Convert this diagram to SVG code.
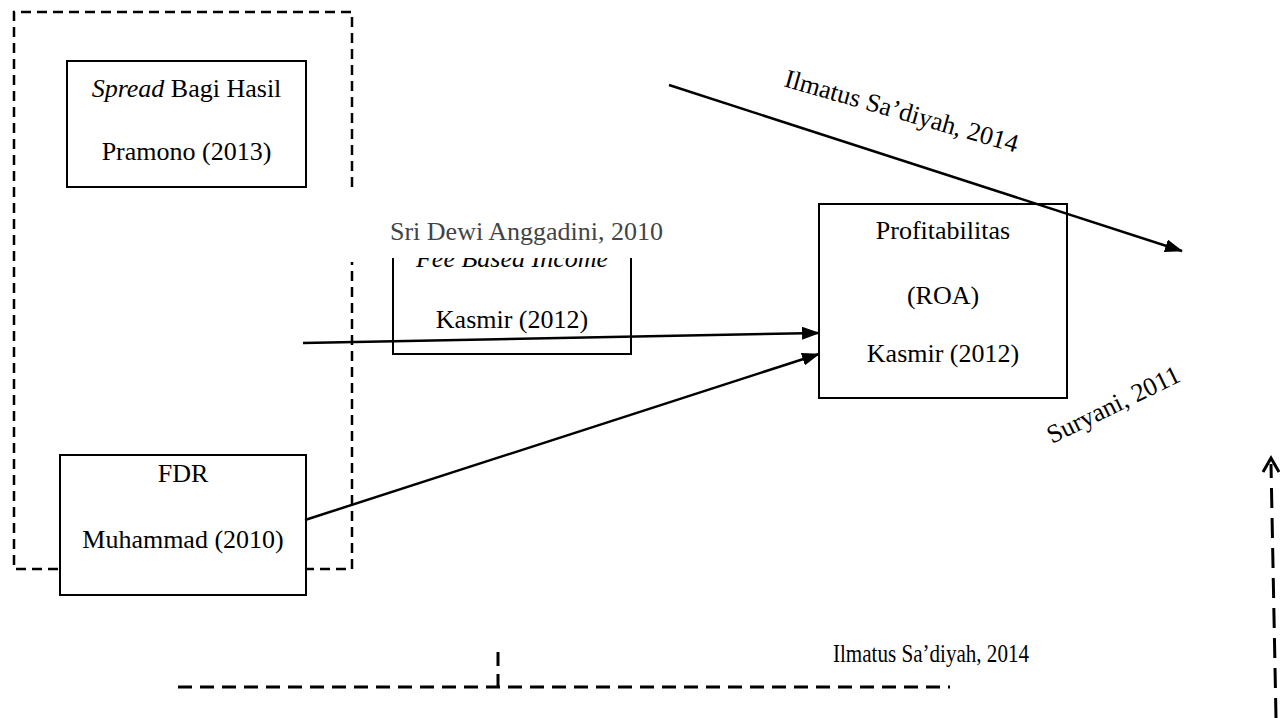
<svg xmlns="http://www.w3.org/2000/svg" width="1280" height="718" viewBox="0 0 1280 718">
<style>
text{font-family:"Liberation Serif","Times New Roman",serif;font-size:26px;fill:#000}
.box{fill:#fff;stroke:#000;stroke-width:2}
.c{text-anchor:middle}
.gray{fill:#444}
.dash1{fill:none;stroke:#000;stroke-width:2.5;stroke-dasharray:10 6}
.dash2{fill:none;stroke:#000;stroke-width:3;stroke-dasharray:14 8}
.dash3{fill:none;stroke:#000;stroke-width:3;stroke-dasharray:20 10}
.conn{fill:none;stroke:#000;stroke-width:2.5}
</style>
<defs>
<marker id="ah" viewBox="0 0 18 13" refX="17" refY="6.5" markerWidth="18" markerHeight="13" markerUnits="userSpaceOnUse" orient="auto">
<path d="M0,0 L18,6.5 L0,13 Z" fill="#000"/>
</marker>
<clipPath id="feeclip"><rect x="380" y="258" width="270" height="40"/></clipPath>
</defs>
<rect width="1280" height="718" fill="#fff"/>
<g id="frame-left">
<path class="dash1" d="M352,187 L352,12 L14,12 L14,569 L352,569 L352,262"/>
</g>
<g id="frame-bottom">
<path class="dash2" d="M178,687 L950,687 M498,652 L498,687"/>
</g>
<g id="node-spread">
<rect class="box" x="67" y="61" width="239" height="126"/>
<text class="c" x="186.5" y="97"><tspan font-style="italic">Spread</tspan> Bagi Hasil</text>
<text class="c" x="186.5" y="160">Pramono (2013)</text>
</g>
<g id="node-fdr">
<rect class="box" x="60" y="455" width="246" height="140"/>
<text class="c" x="183" y="482">FDR</text>
<text class="c" x="183" y="548">Muhammad (2010)</text>
</g>
<g id="node-fee">
<path fill="#fff" stroke="#000" stroke-width="2" d="M393,258 L393,354 L631,354 L631,258"/>
<text class="c" x="512" y="267" font-style="italic" clip-path="url(#feeclip)">Fee Based Income</text>
<text class="c" x="512" y="328">Kasmir (2012)</text>
</g>
<g id="node-roa">
<rect class="box" x="819" y="204" width="248" height="194"/>
<text class="c" x="943" y="239">Profitabilitas</text>
<text class="c" x="943" y="304">(ROA)</text>
<text class="c" x="943" y="362">Kasmir (2012)</text>
</g>
<g id="labels">
<text class="c gray" x="526.5" y="240">Sri Dewi Anggadini, 2010</text>
<text transform="translate(783,86) rotate(16)">Ilmatus Sa’diyah, 2014</text>
<text transform="translate(1052,444) rotate(-26)">Suryani, 2011</text>
<text x="833" y="662" textLength="196" lengthAdjust="spacingAndGlyphs">Ilmatus Sa’diyah, 2014</text>
</g>
<g id="connectors">
<line class="conn" x1="669" y1="85" x2="1182" y2="251" marker-end="url(#ah)"/>
<line class="conn" x1="303" y1="343" x2="819" y2="333" marker-end="url(#ah)"/>
<line class="conn" x1="305" y1="520" x2="819" y2="354" marker-end="url(#ah)"/>
<path class="dash3" d="M1276,718 L1271,464"/>
<path fill="none" stroke="#000" stroke-width="3" d="M1263,472 L1271,458 L1279,472"/>
</g>
</svg>
